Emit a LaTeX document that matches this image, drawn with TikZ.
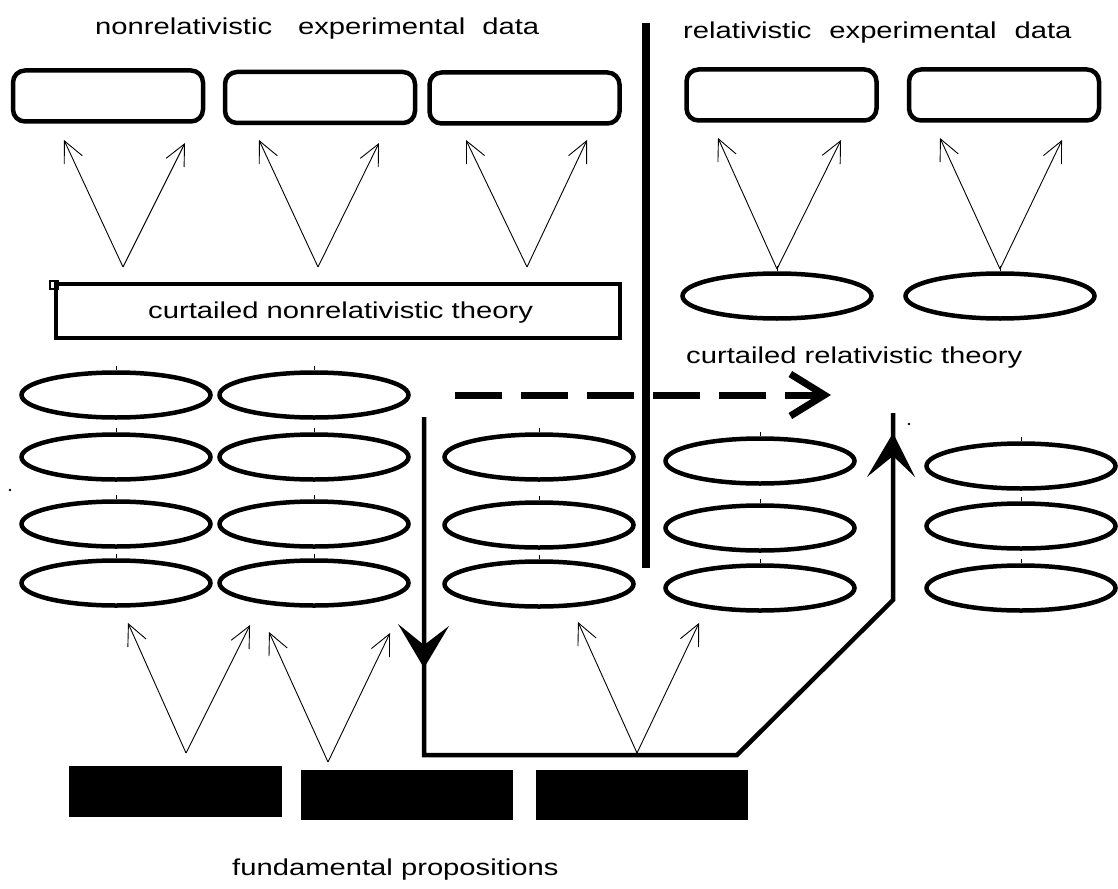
\documentclass[tikz,border=0pt]{standalone}
\usepackage{fontspec}
\setmainfont{Liberation Sans}[FakeStretch=1.27]
\usetikzlibrary{arrows.meta,shapes.geometric}
\begin{document}
\begin{tikzpicture}[x=1pt,y=-1pt,
  lbl/.style={anchor=base west, inner sep=0pt, font=\fontsize{23}{27}\selectfont},
  databox/.style={draw, line width=4.5pt, rounded corners=12pt, minimum width=190pt, minimum height=51pt, inner sep=0pt},
  oval/.style={draw, ellipse, line width=4.5pt, minimum width=189pt, minimum height=45pt, inner sep=0pt},
  fundbox/.style={fill=black, draw=none, minimum width=212pt, minimum height=50pt, inner sep=0pt},
  vtip/.style={line width=0.9pt, -{Straight Barb[length=21pt,width=20pt]}},
  flow/.style={line width=4.5pt},
  chev/.style={fill=black},
  tick/.style={line width=0.8pt}
]
\useasboundingbox (0,0) rectangle (1118,888);

% labels
\node[lbl] (t1) at (95,35) {nonrelativistic\hspace{26pt}experimental\hspace{17pt}data};
\node[lbl] (t2) at (683,39) {relativistic\hspace{18pt}experimental\hspace{18pt}data};
\node[lbl] (t4) at (686,363) {curtailed relativistic theory};
\node[lbl] (t5) at (232,875) {fundamental propositions};

% top data boxes
\node[databox] (b1) at (108,96) {};
\node[databox] (b2) at (320,97.5) {};
\node[databox] (b3) at (524.5,98) {};
\node[databox] (b4) at (781.5,95) {};
\node[databox] (b5) at (1004,95) {};

% curtailed nonrelativistic theory box
\node[draw, line width=4pt, minimum width=564pt, minimum height=54pt, inner sep=0pt] (cnt) at (338,311) {};
\node[lbl] (t3) at (148,318) {curtailed nonrelativistic theory};
\draw[line width=1.2pt] (50,281) rectangle (58,289);

% right top ellipses
\node[oval] (er1) at (777,296) {};
\node[oval] (er2) at (1000,296) {};

% ellipse grid
\foreach \n/\x/\y in {a1/116/395, a2/116/457, a3/116/524, a4/116/583,
                      c1/314/395, c2/314/457, c3/314/524, c4/314/583,
                      d2/539/457, d3/539/525, d4/539/584,
                      f2/760/461, f3/760/528, f4/760/588,
                      g2/1021/466, g3/1021/526, g4/1021/588}{
  \node[oval] (e\n) at (\x,\y) {};
  \draw[tick] (e\n.north) -- ++(0,-4);
}
\draw[tick] (er1.north) -- ++(0,-5);
\draw[tick] (er2.north) -- ++(0,-5);

% fundamental proposition boxes
\node[fundbox, minimum width=213pt, minimum height=51pt] (r1) at (175.5,791.5) {};
\node[fundbox] (r2) at (407,794.5) {};
\node[fundbox] (r3) at (642,794.5) {};

% divider
\coordinate (vtop) at (646,23);
\coordinate (vbot) at (646,568);
\draw[line width=8pt] (vtop) -- (vbot);

% dashed arrow
\coordinate (da) at (455,395);
\coordinate (db) at (831,395);
\draw[line width=7pt, dash pattern=on 47pt off 19pt, -{Straight Barb[length=34pt,width=42pt]}] (da) -- (db);

% thick flow path
\coordinate (p1) at (424,417);
\coordinate (p2) at (424,755);
\coordinate (p3) at (737,755);
\coordinate (p4) at (893,600);
\coordinate (p5) at (893,413);
\draw[flow, line join=miter] (p1) -- (p2) -- (p3) -- (p4) -- (p5);
\coordinate (dtip) at (424,668);
\coordinate (utip) at (893,433);
\fill[chev] (dtip) -- (398,624) -- (424,645) -- (449,626) -- cycle;
\fill[chev] (utip) -- (867,477) -- (893,456) -- (915,477) -- cycle;

% thin V arrows
\foreach \n/\ax/\ay/\lx/\ly/\rx/\ry in {
  va/123/267/64/140/185/143,
  vb/318/267/259/140/379/143,
  vc/527/267/466/140/587/140,
  vd/777/269/718/138/841/140,
  ve/1000/269/940/138/1062/140,
  vf/186/753/128/623/250/625,
  vg/328/762/269/632/390/633,
  vh/637/753/578/622/699/623}{
  \coordinate (\n o) at (\ax,\ay);
  \coordinate (\n l) at (\lx,\ly);
  \coordinate (\n r) at (\rx,\ry);
  \draw[vtip] (\n o) -- (\n l);
  \draw[vtip] (\n o) -- (\n r);
}

% stray dots
\fill (10,490) circle (1.3);
\fill (909,424) circle (1.3);
\end{tikzpicture}
\end{document}
